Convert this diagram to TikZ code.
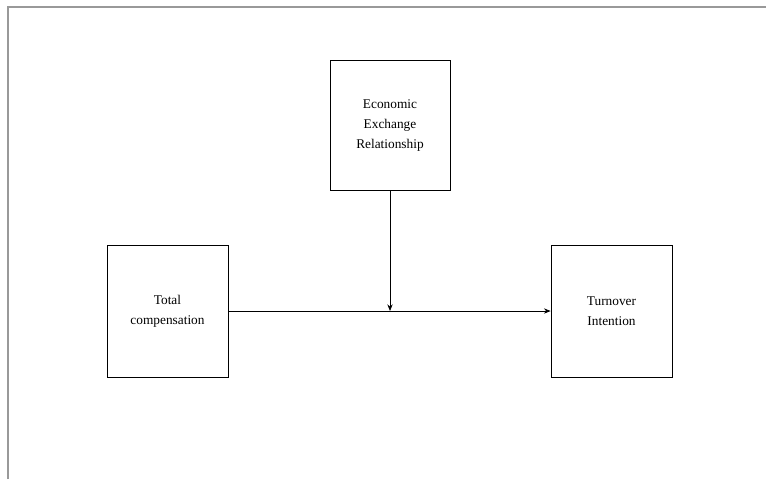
\documentclass[tikz,border=0pt]{standalone}
\usepackage{fontspec}
\setmainfont{Liberation Serif}
\usetikzlibrary{arrows.meta}
\usetikzlibrary{positioning}

\begin{document}
\begin{tikzpicture}[x=0.75pt,y=-0.75pt,
            box/.style={draw, line width=0.6pt, align=center, inner sep=0pt,
                font=\fontsize{10}{15}\selectfont},
            link/.style={line width=0.6pt, -{Stealth[length=5pt,width=4pt]}}]
            \useasboundingbox (0,0) rectangle (766,479);
            % frame of the page
            \draw [black!40, line width=1.5pt] (8,479) -- (8,7) -- (766,7);
            \node [box, minimum width=90pt, minimum height=97.5pt] (econ) at (390,125)
            {Economic\\Exchange\\Relationship};
            \node [box, minimum width=90.75pt, minimum height=99pt] (total) at (167.5,311)
            {Total\\compensation};
            \node [box, minimum width=90.75pt, minimum height=99pt] (turn) at (611.5,311)
            {Turnover\\Intention};
            \coordinate (meet) at (econ.south |- total.east);
            \draw [link] (total.east) -- (turn.west);
            \draw [link] (econ.south) -- (meet);
        \end{tikzpicture}
\end{document}
